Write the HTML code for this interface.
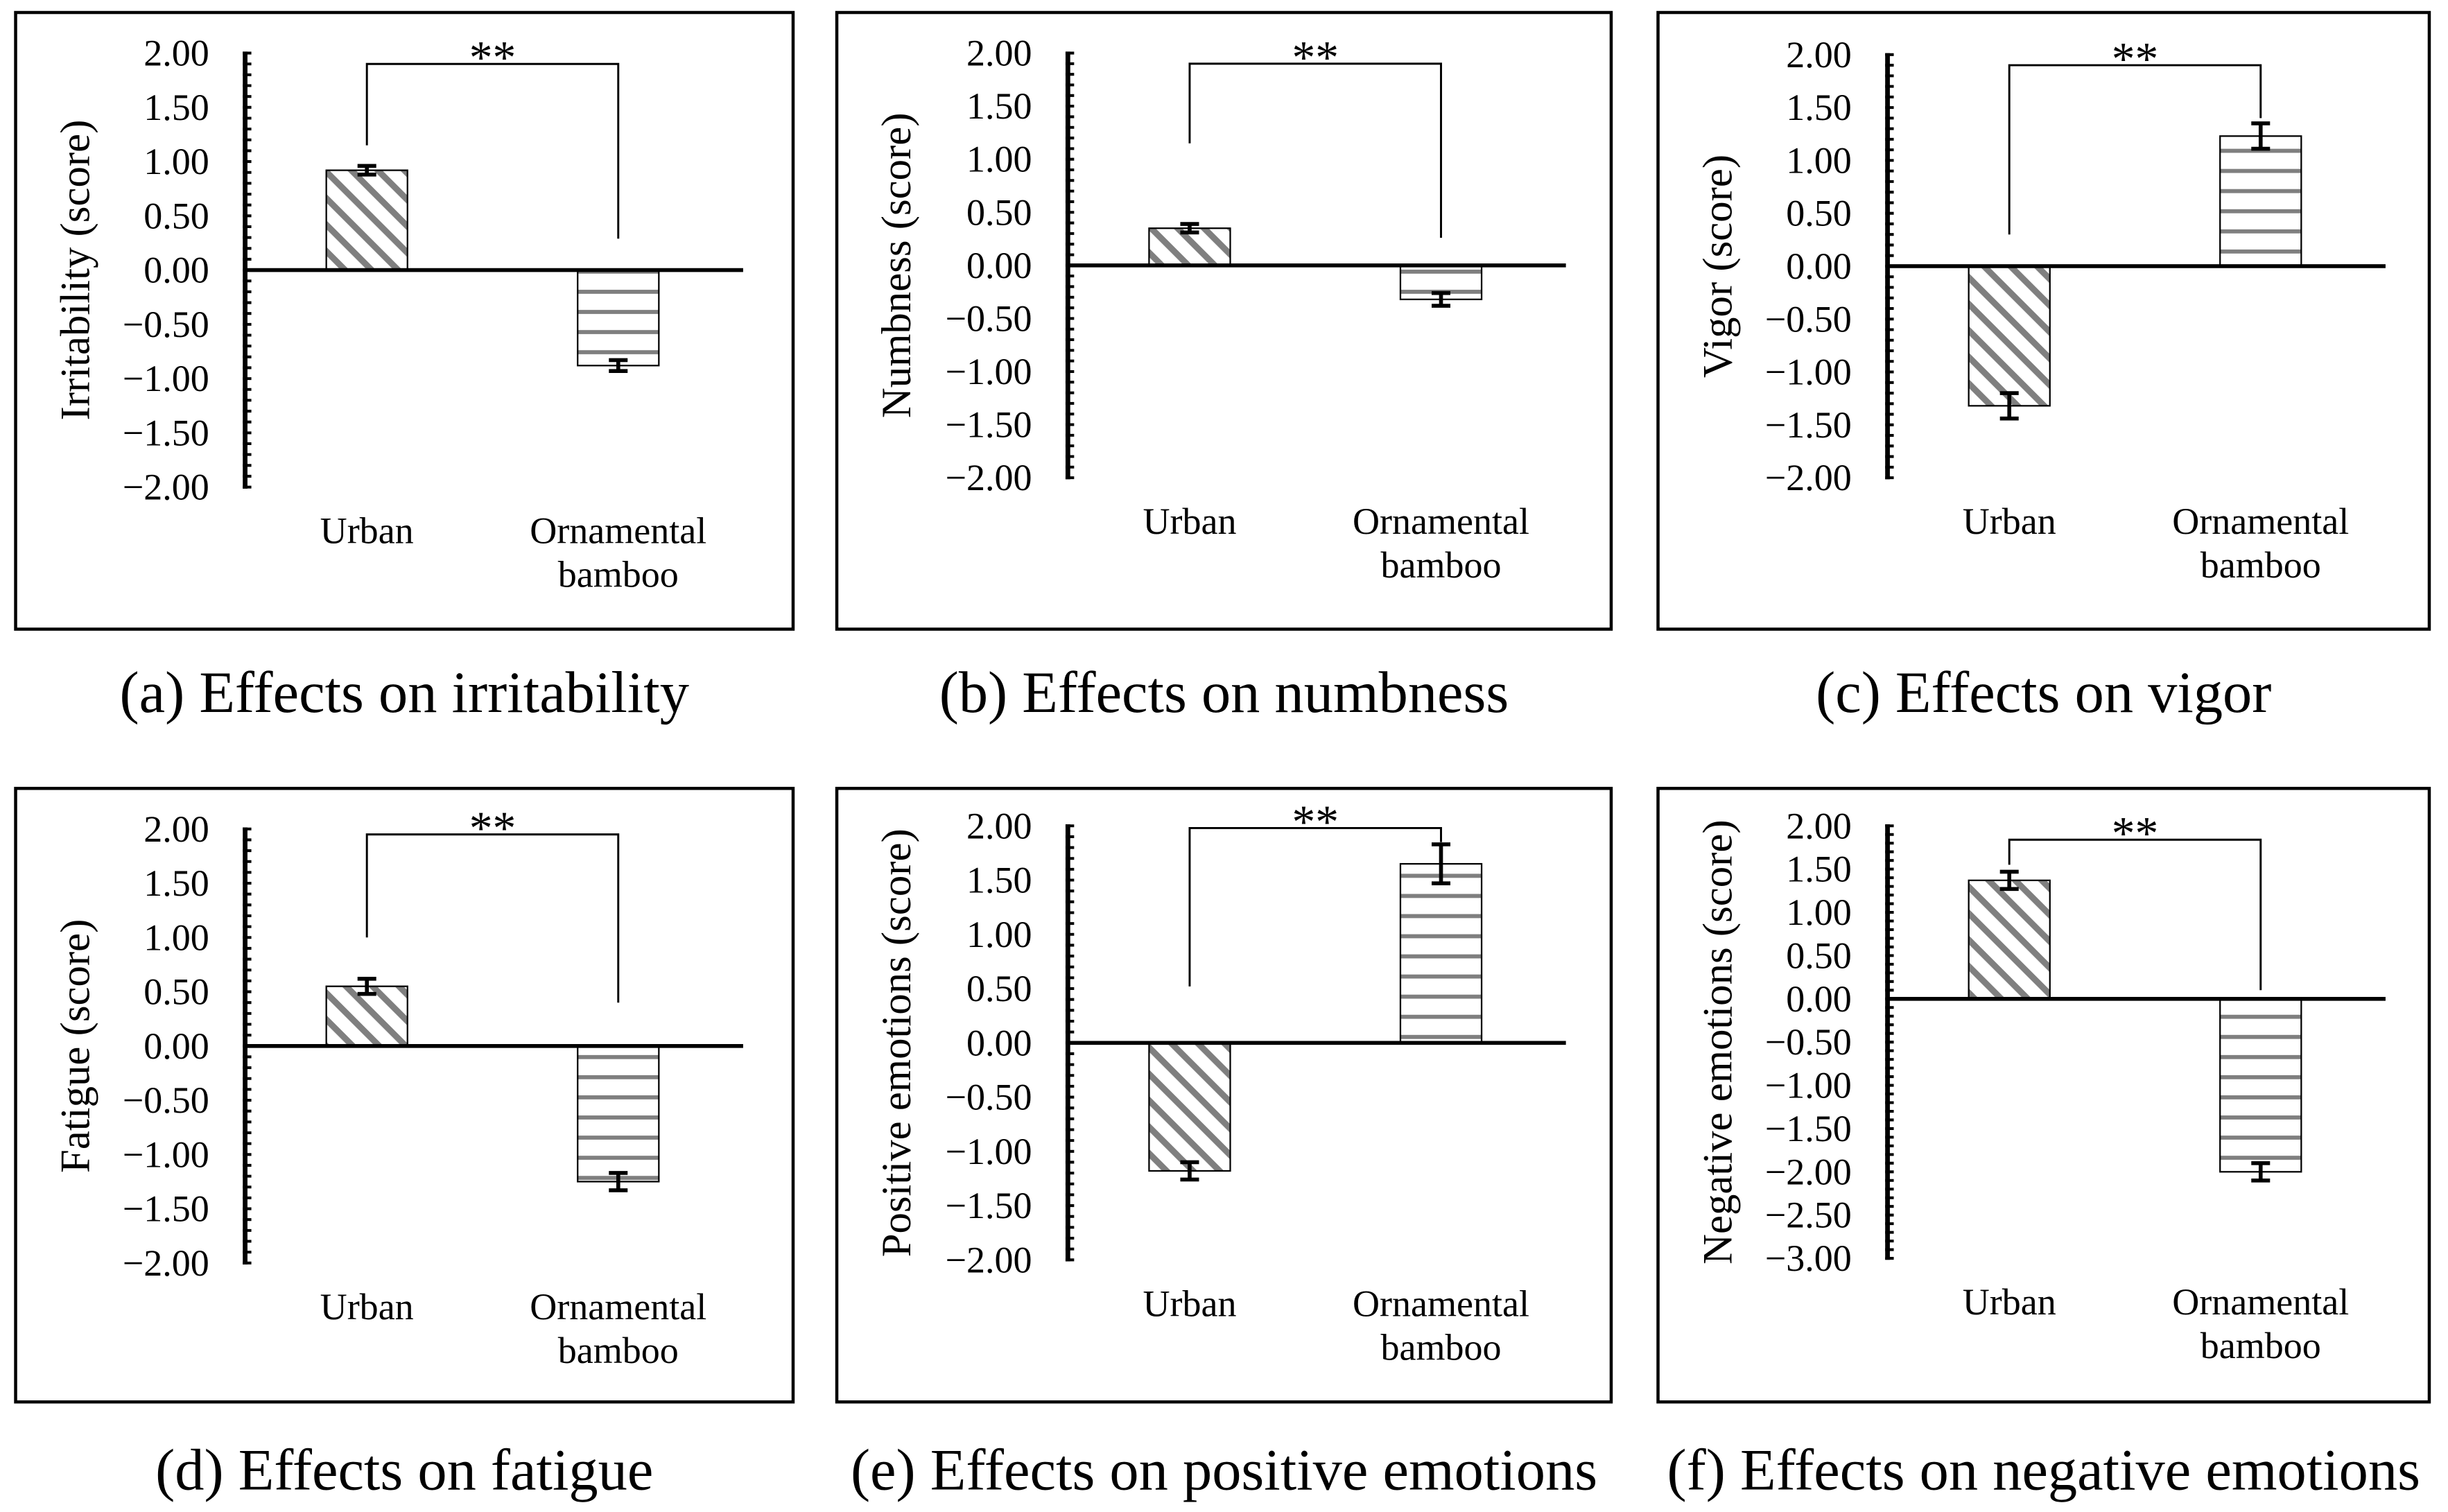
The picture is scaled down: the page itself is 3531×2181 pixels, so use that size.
<!DOCTYPE html>
<html><head><meta charset="utf-8"><style>
html,body{margin:0;padding:0;background:#fff;}
svg{display:block;}
svg text{font-family:"Liberation Serif","Times New Roman","DejaVu Serif",serif !important;fill:#000;}
</style></head><body>
<svg id="fig" width="3531" height="2181" viewBox="0 0 1568 968.5" xmlns="http://www.w3.org/2000/svg" font-family="Liberation Serif, serif">
<defs>
<pattern id="diag" patternUnits="userSpaceOnUse" width="12" height="12" patternTransform="rotate(45)">
<rect width="12" height="12" fill="#fff"/><rect x="0" y="0" width="12" height="4" fill="#7f7f7f"/>
</pattern>
<pattern id="horiz" patternUnits="userSpaceOnUse" width="20" height="12.9">
<rect width="20" height="12.9" fill="#fff"/><rect x="0" y="5" width="20" height="2.6" fill="#7f7f7f"/>
</pattern>
</defs>
</svg>
<script>
const categories = ["Urban", "Ornamental"];
const panelTitles = ["(a) Effects on irritability","(b) Effects on numbness","(c) Effects on vigor","(d) Effects on fatigue","(e) Effects on positive emotions","(f) Effects on negative emotions"];
const yTitles = ["Irritability (score)","Numbness (score)","Vigor (score)","Fatigue (score)","Positive emotions (score)","Negative emotions (score)"];
const urbanValues = [0.92, 0.35, -1.32, 0.55, -1.18, 1.37];
const urbanErrors = [0.04, 0.04, 0.12, 0.07, 0.08, 0.10];
const bambooValues = [-0.88, -0.32, 1.23, -1.25, 1.65, -2.00];
const bambooErrors = [0.05, 0.06, 0.12, 0.08, 0.18, 0.10];
const yMaxs = [2, 2, 2, 2, 2, 2];
const yMins = [-2, -2, -2, -2, -2, -3];
const bracketTops = [1.9, 1.9, 1.9, 1.95, 1.98, 1.84];
const bracketLeftEnds = [1.15, 1.15, 0.3, 1.0, 0.52, 1.55];
const bracketRightEnds = [0.29, 0.26, 1.4, 0.4, 1.85, 0.1];

const svg = document.getElementById('fig');
const NS = 'http://www.w3.org/2000/svg';
const FONT = '"Liberation Serif", "Times New Roman", serif';
function mk(tag, attrs, parent){const e=document.createElementNS(NS,tag);for(const k in attrs)e.setAttribute(k,attrs[k]);if(tag==='text')e.setAttribute('font-family',FONT);(parent||svg).appendChild(e);return e;}

const layout = [
 [10,8,508,403,157,34,312,476,445],
 [536,8,1032,403,684,34,306,1003,445],
 [1062,8,1556,403,1209,35,306,1528,445],
 [10,505,508,898,157,531,809,476,943],
 [536,505,1032,898,684,529,807,1003,943],
 [1062,505,1556,898,1209,529,806,1528,943]
];

for(let i=0;i<6;i++){
 const [bl,bt,br,bb,ax,yt,yb,aend,capY]=layout[i];
 const g=mk('g',{});
 
 
 const yScale=v=>yt+(yMaxs[i]-v)/(yMaxs[i]-yMins[i])*(yb-yt);
 const box=mk('rect',{x:bl,y:bt,width:br-bl,height:bb-bt,fill:'none',stroke:'#000','stroke-width':2},g);
 
 
 const x1=ax+78, x2=ax+239, bw=52;
 const vals=[urbanValues[i],bambooValues[i]], errs=[urbanErrors[i],bambooErrors[i]], xs=[x1,x2], pats=['url(#diag)','url(#horiz)'];
 for(let j=0;j<2;j++){
  const y0=yScale(0), yv=yScale(vals[j]);
  const r=mk('rect',{x:xs[j]-bw/2,y:Math.min(y0,yv),width:bw,height:Math.abs(yv-y0),fill:pats[j],stroke:'#000','stroke-width':1},g);
  
  
  const eTop=yScale(vals[j]+errs[j]), eBot=yScale(vals[j]-errs[j]);
  const eb=mk('path',{d:`M${xs[j]} ${eTop}V${eBot}M${xs[j]-6} ${eTop}H${xs[j]+6}M${xs[j]-6} ${eBot}H${xs[j]+6}`,stroke:'#000','stroke-width':2.5,fill:'none'},g);
  
  
 }
 const zl=mk('line',{x1:ax,x2:aend,y1:yScale(0),y2:yScale(0),stroke:'#000','stroke-width':2.5},g);
 
 
 const ya=mk('line',{x1:ax,x2:ax,y1:yt-1,y2:yb+1,stroke:'#000','stroke-width':3},g);
 
 
 const nT=Math.round((yMaxs[i]-yMins[i])*10);
 let d='';
 for(let k=0;k<=nT;k++){const yy=yScale(yMaxs[i]-k/10);d+=`M${ax-1.5} ${yy}H${ax+4}`;}
 const tk=mk('path',{d:d,stroke:'#000','stroke-width':1.8},g);
 
 
 for(let v=yMaxs[i]; v>=yMins[i]-1e-9; v-=0.5){
  const t=mk('text',{x:ax-23,y:yScale(v)+8,'text-anchor':'end','font-size':24},g);
  t.textContent=(v<-1e-9?'\u2212':'')+Math.abs(v).toFixed(2);
  
  
 }
 const ytx=bl+47, ytyC=(yt+yb)/2;
 const yt2=mk('text',{x:ytx,y:ytyC,'text-anchor':'middle','font-size':27,transform:`rotate(-90 ${ytx} ${ytyC})`},g);
 yt2.textContent=yTitles[i];
 
 
 const lblY=yb+36;
 const l1=mk('text',{x:x1,y:lblY,'text-anchor':'middle','font-size':24},g);
 l1.textContent='Urban';
 
 
 const l2=mk('text',{x:x2,y:lblY,'text-anchor':'middle','font-size':24},g);
 l2.textContent='Ornamental';
 
 
 const l3=mk('text',{x:x2,y:lblY+28,'text-anchor':'middle','font-size':24},g);
 l3.textContent='bamboo';
 
 
 const bTop=yScale(bracketTops[i]);
 const br2=mk('path',{d:`M${x1} ${yScale(bracketLeftEnds[i])}V${bTop}H${x2}V${yScale(bracketRightEnds[i])}`,stroke:'#000','stroke-width':1.3,fill:'none'},g);
 
 
 const st=mk('text',{x:(x1+x2)/2,y:bTop+6,'text-anchor':'middle','font-size':30},g);
 st.textContent='**';
 
 
 const cap=mk('text',{x:(bl+br)/2,y:capY+11,'text-anchor':'middle','font-size':37.5},g);
 cap.textContent=panelTitles[i];
 
 
}
</script>
</body></html>
